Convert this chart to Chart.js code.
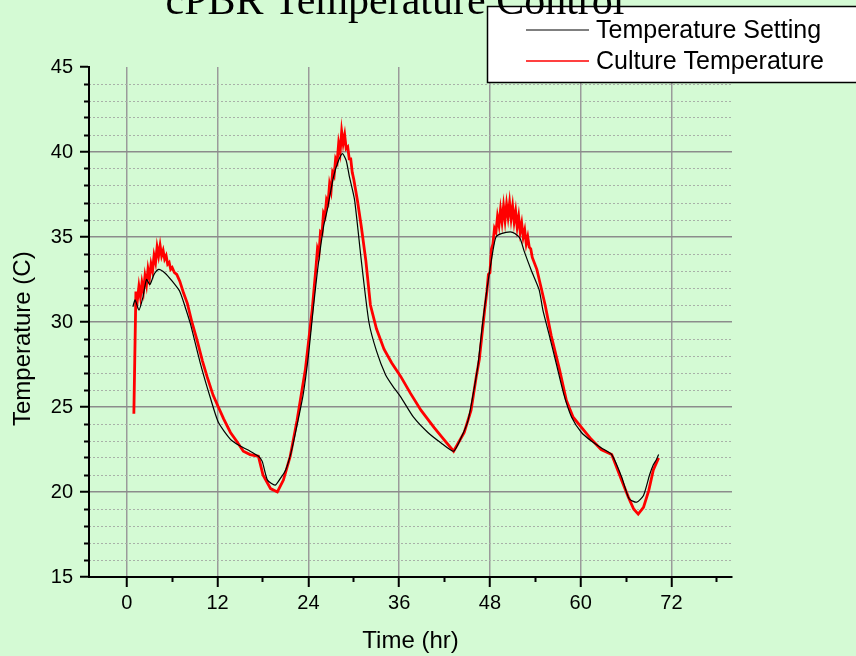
<!DOCTYPE html>
<html>
<head>
<meta charset="utf-8">
<script src="https://cdn.jsdelivr.net/npm/chart.js@4.4.1/dist/chart.umd.min.js"></script>
<style>
  html, body { margin: 0; padding: 0; background: #d4fad4; }
  canvas { display: block; }
</style>
</head>
<body>
<canvas id="tempChart" width="856" height="656"></canvas>
<script>
// Temperature Setting (black) - time in hr, temperature in C
const settingTime = [0.8, 1.1, 1.6, 2.1, 2.6, 3.05, 3.6, 4.2, 5.0, 6.0, 7.0, 7.7, 8.4, 9.7, 11.0, 12.1,
  13.7, 15.0, 16.3, 17.4, 17.9, 18.6, 19.6, 20.3, 21.0, 21.7, 22.3, 23.3, 24.0, 24.6, 25.2, 26.0,
  26.5, 27.3, 27.9, 28.5, 29.0, 29.4, 30.1, 31.0, 32.0, 33.0, 34.2, 35.2, 36.2, 37.9, 39.8, 41.5,
  43.2, 44.2, 45.1, 45.8, 46.4, 47.0, 47.6, 48.4, 48.8, 49.5, 50.7, 51.3, 52.0, 52.5, 53.5, 54.5,
  55.0, 55.8, 56.8, 57.8, 58.8, 60.1, 61.4, 62.7, 64.1, 65.4, 66.4, 67.4, 68.3, 69.1, 69.6, 70.0, 70.3];
const settingTemp = [30.9, 31.3, 30.7, 31.4, 32.5, 32.2, 32.8, 33.1, 32.9, 32.4, 31.8, 30.9, 29.9, 27.6, 25.6, 24.1,
  23.1, 22.7, 22.4, 22.1, 21.8, 20.7, 20.4, 20.8, 21.3, 22.3, 23.5, 25.7, 28.0, 30.6, 33.0, 35.6,
  36.6, 38.5, 39.4, 39.9, 39.5, 38.6, 37.2, 33.6, 30.0, 28.3, 26.9, 26.2, 25.6, 24.4, 23.5, 22.9,
  22.4, 23.2, 24.2, 25.8, 27.4, 29.8, 31.9, 34.2, 35.0, 35.2, 35.3, 35.2, 34.9, 34.2, 33.0, 31.9,
  30.7, 29.3, 27.5, 25.7, 24.4, 23.5, 23.0, 22.6, 22.2, 20.9, 19.6, 19.4, 19.8, 21.0, 21.6, 21.9, 22.2];

// Culture Temperature (red)
const cultureTime = [0.93, 1.2, 1.4, 1.6, 1.8, 2.0, 2.2, 2.4, 2.6, 2.8, 3.0, 3.2, 3.4, 3.6, 3.8, 4.0,
  4.2, 4.4, 4.6, 4.8, 5.0, 5.2, 5.4, 5.6, 5.8, 6.0, 6.3, 6.6, 7.0, 7.5, 8.0, 8.6,
  9.3, 10.0, 10.6, 11.4, 12.1, 12.8, 13.7, 14.5, 15.4, 16.3, 17.4, 18.0, 18.5, 19.0, 19.9, 20.7,
  21.6, 22.5, 23.6, 24.5, 25.0, 25.2, 25.4, 25.6, 25.8, 26.0, 26.2, 26.4, 26.6, 26.8, 27.0, 27.2,
  27.4, 27.6, 27.8, 28.0, 28.2, 28.4, 28.6, 28.8, 29.0, 29.2, 29.4, 29.6, 29.8, 30.0, 30.5, 31.0,
  31.6, 32.2, 33.0, 34.0, 35.0, 36.2, 37.5, 38.9, 40.6, 41.9, 43.2, 44.6, 45.5, 46.2, 46.6, 47.3,
  47.6, 47.8, 48.0, 48.2, 48.4, 48.6, 48.8, 49.0, 49.2, 49.4, 49.6, 49.8, 50.0, 50.2, 50.4, 50.6,
  50.8, 51.0, 51.2, 51.4, 51.6, 51.8, 52.0, 52.2, 52.4, 52.6, 52.8, 53.0, 53.2, 53.4, 53.6, 54.2,
  55.3, 56.1, 57.2, 58.1, 59.0, 60.1, 61.4, 62.7, 64.1, 65.4, 66.3, 67.0, 67.6, 68.3, 69.0, 69.6, 70.3];
const cultureTemp = [24.6, 31.8, 31.3, 32.1, 31.5, 32.3, 31.8, 32.7, 32.2, 33.1, 32.6, 33.4, 33.0, 33.9, 33.5, 34.4,
  33.9, 34.5, 33.9, 34.2, 33.7, 33.9, 33.4, 33.5, 33.1, 33.2, 32.9, 32.8, 32.4, 31.7, 31.1, 30.0,
  28.9, 27.7, 26.8, 25.7, 25.0, 24.3, 23.5, 23.0, 22.4, 22.2, 22.1, 21.0, 20.6, 20.2, 20.0, 20.7,
  22.1, 24.2, 27.2, 30.7, 33.2, 34.3, 34.0, 35.3, 35.2, 36.4, 36.2, 37.2, 37.0, 38.1, 37.7, 38.8,
  38.6, 39.6, 39.4, 40.5, 40.0, 41.2, 40.5, 41.0, 40.2, 40.3, 39.6, 39.6, 38.8, 38.4, 37.1, 35.6,
  33.6, 31.0, 29.6, 28.4, 27.6, 26.8, 25.8, 24.8, 23.8, 23.1, 22.4, 23.5, 24.8, 26.8, 27.8, 30.7,
  31.8, 32.8, 32.9, 34.3, 34.6, 35.5, 35.3, 36.2, 35.7, 36.6, 35.9, 36.8, 36.0, 36.9, 36.2, 37.0,
  36.1, 36.8, 35.9, 36.5, 35.6, 36.2, 35.3, 35.8, 35.0, 35.4, 34.6, 35.0, 34.4, 34.3, 33.8, 33.1,
  31.0, 29.2, 27.2, 25.4, 24.4, 23.8, 23.1, 22.5, 22.2, 20.7, 19.7, 19.0, 18.7, 19.1, 20.1, 21.3, 22.0];

const xMajorTicks = [0, 12, 24, 36, 48, 60, 72];
const xMinorTicks = [6, 18, 30, 42, 54, 66, 78];
const yMajorTicks = [15, 20, 25, 30, 35, 40, 45];
const yMinorTicks = [16, 17, 18, 19, 21, 22, 23, 24, 26, 27, 28, 29, 31, 32, 33, 34, 36, 37, 38, 39, 41, 42, 43, 44];

const chartTitle = 'cPBR Temperature Control';
const sans = "'Liberation Sans', Arial, sans-serif";

const toPoints = (xs, ys) => xs.map((x, i) => ({ x: x, y: ys[i] }));
const setTicks = (list) => (scale) => { scale.ticks = list.map(v => ({ value: v })); };

// Title + boxed legend, the way Origin puts them at the top
const overlayPlugin = {
  id: 'overlay',
  afterDraw: (chart) => {
    const ctx = chart.ctx;
    ctx.save();
    ctx.fillStyle = '#ffffff';
    ctx.fillRect(487.5, 6.5, 380, 76);
    ctx.strokeStyle = '#000000';
    ctx.lineWidth = 1.5;
    ctx.strokeRect(487.5, 6.5, 380, 76);

    chart.data.datasets.forEach((ds, i) => {
      const y = 30 + i * 31;
      ctx.strokeStyle = ds.borderColor;
      ctx.lineWidth = i === 0 ? 1 : 1.5;
      ctx.beginPath();
      ctx.moveTo(526, y);
      ctx.lineTo(589, y);
      ctx.stroke();
      ctx.fillStyle = '#000000';
      ctx.font = '25px ' + sans;
      ctx.textAlign = 'left';
      ctx.textBaseline = 'middle';
      ctx.fillText(ds.label, 596, y + 1);
    });

    ctx.fillStyle = '#000000';
    ctx.font = "42px 'Liberation Serif', 'Times New Roman', serif";
    ctx.textAlign = 'center';
    ctx.textBaseline = 'alphabetic';
    ctx.fillText(chartTitle, 395, 14);
    ctx.restore();
  }
};

new Chart(document.getElementById('tempChart').getContext('2d'), {
  type: 'line',
  data: {
    datasets: [
      {
        label: 'Temperature Setting',
        data: toPoints(settingTime, settingTemp),
        borderColor: '#000000',
        borderWidth: 1.2,
        pointRadius: 0,
        tension: 0.2
      },
      {
        label: 'Culture Temperature',
        data: toPoints(cultureTime, cultureTemp),
        borderColor: '#ff0000',
        borderWidth: 2.8,
        pointRadius: 0,
        tension: 0
      }
    ]
  },
  plugins: [overlayPlugin],
  options: {
    responsive: false,
    animation: false,
    layout: { padding: { top: 67, right: 124, bottom: 0, left: 0 } },
    plugins: {
      legend: { display: false },
      tooltip: { enabled: false }
    },
    scales: {
      x: {
        type: 'linear',
        position: 'bottom',
        weight: 1,
        min: -5,
        max: 80,
        afterBuildTicks: setTicks(xMajorTicks),
        afterFit: (s) => { s.height = 79; },
        grid: { color: '#9a9a9a', lineWidth: 1.5, tickColor: '#000000', tickWidth: 2, tickLength: 10 },
        border: { color: '#000000', width: 2 },
        ticks: { color: '#000000', font: { family: sans, size: 20 }, padding: 4 },
        title: { display: true, text: 'Time (hr)', color: '#000000', font: { family: sans, size: 24 }, padding: { top: 0, bottom: 0 } }
      },
      xMinor: {
        type: 'linear',
        position: 'bottom',
        weight: 0,
        min: -5,
        max: 80,
        afterBuildTicks: setTicks(xMinorTicks),
        afterFit: (s) => { s.height = 0; },
        grid: { drawOnChartArea: false, tickColor: '#000000', tickWidth: 2, tickLength: 5 },
        border: { display: false },
        ticks: { display: false }
      },
      y: {
        type: 'linear',
        position: 'left',
        weight: 1,
        min: 15,
        max: 45,
        afterBuildTicks: setTicks(yMajorTicks),
        afterFit: (s) => { s.width = 89; },
        grid: {
          color: (c) => (c.tick && (c.tick.value === 15 || c.tick.value === 45)) ? 'rgba(0,0,0,0)' : '#8c8c8c',
          lineWidth: 1.5,
          tickColor: '#000000',
          tickWidth: 2,
          tickLength: 9
        },
        border: { color: '#000000', width: 2 },
        ticks: { color: '#000000', font: { family: sans, size: 20 }, padding: 7 },
        title: { display: true, text: 'Temperature (C)     ', color: '#000000', font: { family: sans, size: 24 }, padding: { top: 9, bottom: 0 } }
      },
      yMinor: {
        type: 'linear',
        position: 'left',
        weight: 0,
        min: 15,
        max: 45,
        afterBuildTicks: setTicks(yMinorTicks),
        afterFit: (s) => { s.width = 0; },
        grid: { color: '#a8b0a8', lineWidth: 1, tickColor: '#000000', tickWidth: 2, tickLength: 5 },
        border: { display: false, dash: [2, 2] },
        ticks: { display: false }
      }
    }
  }
});
</script>
</body>
</html>
